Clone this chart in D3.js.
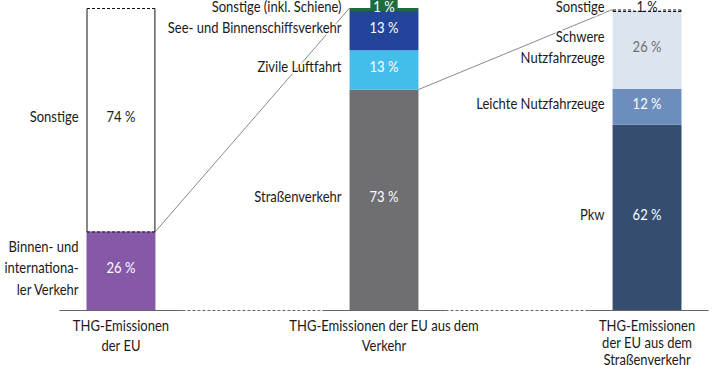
<!DOCTYPE html>
<html>
<head>
<meta charset="utf-8">
<script src="https://cdn.jsdelivr.net/npm/d3@7"></script>
<style>
  body { margin: 0; background: #fff; }
  text { font-family: Lato, "Open Sans", sans-serif; font-size: 15.5px; fill: #1a1a1a; }
</style>
</head>
<body>
<div id="chart"></div>
<script>
// bar titles (one entry per line)
var barTitles = [
  ["THG-Emissionen", "der EU"],
  ["THG-Emissionen der EU aus dem", "Verkehr"],
  ["THG-Emissionen", "der EU aus dem", "Straßenverkehr"]
];

// segments, bottom to top
var euNames = [["Binnen- und", "internationa-", "ler Verkehr"], ["Sonstige"]];
var euValues = [26, 74];

var verkehrNames = [["Straßenverkehr"], ["Zivile Luftfahrt"], ["See- und Binnenschiffsverkehr"], ["Sonstige (inkl. Schiene)"]];
var verkehrValues = [73, 13, 13, 1];

var strasseNames = [["Pkw"], ["Leichte Nutzfahrzeuge"], ["Schwere", "Nutzfahrzeuge"], ["Sonstige"]];
var strasseValues = [62, 12, 26, 1];

// styles
var euColors = ["#8559a7", "none"];
var verkehrColors = ["#6e6e73", "#45bdea", "#22449a", "#1e6b3f"];
var strasseColors = ["#354e70", "#6d8dbd", "#dce4ef", "none"];
var euText = ["#fff", "#1a1a1a"];
var verkehrText = ["#fff", "#fff", "#fff", "#fff"];
var strasseText = ["#fff", "#fff", "#6e6e73", "#1a1a1a"];

var bars = [
  {names: euNames, values: euValues, colors: euColors, text: euText},
  {names: verkehrNames, values: verkehrValues, colors: verkehrColors, text: verkehrText},
  {names: strasseNames, values: strasseValues, colors: strasseColors, text: strasseText}
];

var width = 712, height = 365,
    baseY = 310, topY = 8,
    sx = 0.84; // horizontal squeeze, stands in for a condensed face

var svg = d3.select("#chart").append("svg")
    .attr("width", width)
    .attr("height", height);

// squeezed multi-line text, first baseline at py
function label(parent, px, py, lines, anchor, lh) {
  var t = parent.append("text")
      .attr("transform", "translate(" + px + "," + py + ") scale(" + sx + ",1)")
      .attr("text-anchor", anchor);
  lines.forEach(function(line, k) {
    t.append("tspan")
        .attr("x", 0)
        .attr("y", k * lh)
        .text(line);
  });
  return t;
}

var x = d3.scaleBand()
    .domain(d3.range(bars.length))
    .range([86.5, 681.5])
    .paddingInner(0.738);

var bw = x.bandwidth();

// one y scale per bar, each bar stacks to full height
bars.forEach(function(b) {
  var total = d3.sum(b.values);
  b.y = d3.scaleLinear().domain([0, total]).range([baseY, topY]);
  var ends = d3.cumsum(b.values);
  b.segs = b.values.map(function(v, i) {
    return {value: v, y0: ends[i] - v, y1: ends[i], name: b.names[i], color: b.colors[i], textColor: b.text[i]};
  });
});

// connector lines
var conn = svg.append("g")
    .attr("stroke", "#8a8a8a")
    .attr("stroke-width", 1);

conn.append("line")
    .attr("x1", x(0) + bw).attr("y1", bars[0].y(euValues[0]))
    .attr("x2", x(1)).attr("y2", bars[1].y(d3.sum(verkehrValues)));

conn.append("line")
    .attr("x1", x(1) + bw).attr("y1", bars[1].y(verkehrValues[0]))
    .attr("x2", x(2)).attr("y2", bars[2].y(d3.sum(strasseValues)) + 1.5);

// baseline: solid under bars, dashed between
var base = svg.append("g").attr("stroke", "#666").attr("stroke-width", 1);
bars.forEach(function(b, i) {
  base.append("line")
      .attr("x1", x(i) - 27).attr("x2", x(i) + bw + 27)
      .attr("y1", baseY + 0.5).attr("y2", baseY + 0.5);
  if (i < bars.length - 1) {
    base.append("line")
        .attr("x1", x(i) + bw + 27).attr("x2", x(i + 1) - 27)
        .attr("y1", baseY + 0.5).attr("y2", baseY + 0.5)
        .attr("stroke-dasharray", "3,2");
  }
});

bars.forEach(function(b, i) {
  var g = svg.append("g").attr("class", "bar");
  var y = b.y;

  g.selectAll("rect.seg")
      .data(b.segs.filter(function(d) { return d.color != "none"; }))
      .enter().append("rect")
      .attr("class", "seg")
      .attr("x", x(i))
      .attr("width", bw)
      .attr("y", function(d) { return y(d.y1); })
      .attr("height", function(d) { return y(d.y0) - y(d.y1); })
      .attr("fill", function(d) { return d.color; });

  // outlined (unfilled) segments
  b.segs.filter(function(d) { return d.color == "none"; }).forEach(function(d) {
    var small = (y(d.y0) - y(d.y1)) < 10;
    var top = y(d.y1) + 0.5 + (small ? 1.5 : 0), bot = y(d.y0) + 0.5,
        l = x(i) + 0.5, r = x(i) + bw - 0.5;
    var o = g.append("g").attr("stroke", "#111").attr("stroke-width", 1).attr("fill", "none");
    o.append("line").attr("x1", l).attr("x2", r).attr("y1", top).attr("y2", top).attr("stroke-dasharray", "3,2");
    o.append("line").attr("x1", l).attr("x2", r).attr("y1", bot).attr("y2", bot).attr("stroke-dasharray", "3,2");
    o.append("line").attr("x1", l).attr("x2", l).attr("y1", top).attr("y2", bot).attr("stroke-dasharray", small ? "3,2" : null);
    o.append("line").attr("x1", r).attr("x2", r).attr("y1", top).attr("y2", bot).attr("stroke-dasharray", small ? "3,2" : null);
  });

  // value labels
  b.segs.forEach(function(d) {
    var small = (y(d.y0) - y(d.y1)) < 10;
    var cy = small ? y(d.y0) + 1 : (y(d.y0) + y(d.y1)) / 2 + 2.5;
    var t = label(g, x(i) + bw / 2, cy, [d.value + " %"], "middle", 0)
        .style("fill", d.textColor);
    if (small) {
      var w = t.node().getComputedTextLength() * sx;
      g.insert("rect", function() { return t.node(); })
          .attr("x", x(i) + bw / 2 - w / 2 - 3).attr("y", 0)
          .attr("width", w + 6).attr("height", y(d.y0) - 0.5)
          .attr("fill", d.color == "none" ? "#fff" : d.color);
    }
  });

  // segment names
  b.segs.forEach(function(d) {
    var n = d.name.length, lh = 21.5;
    var cy = (y(d.y0) + y(d.y1)) / 2 + 2.5 - (n - 1) / 2 * lh;
    if ((y(d.y0) - y(d.y1)) < 10) cy = y(d.y0) + 1;
    label(g, x(i) - 8, cy, d.name, "end", lh)
        .attr("stroke", "#fff")
        .attr("stroke-width", 3)
        .attr("paint-order", "stroke");
  });

  // bar title
  var lines = barTitles[i];
  label(g, x(i) + bw / 2, 331, lines, "middle", lines.length > 2 ? 17 : 20.5);
});
</script>
</body>
</html>
